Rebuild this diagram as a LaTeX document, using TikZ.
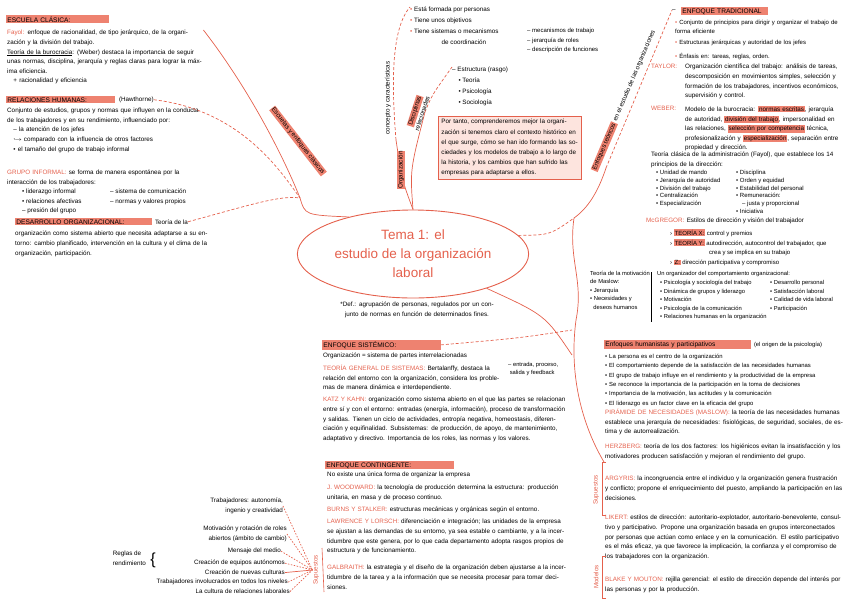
\documentclass[tikz,border=0pt]{standalone}
\usepackage{fontspec}
\setmainfont{Liberation Sans}
\usetikzlibrary{positioning,shapes.geometric}
\definecolor{salmon}{RGB}{228,96,76}
\definecolor{resalte}{RGB}{238,130,112}
\definecolor{rosa}{RGB}{253,228,222}
\newcommand{\rj}[1]{\textcolor{salmon}{#1}}
\newcommand{\hl}[1]{{\setlength{\fboxsep}{0.8pt}\colorbox{resalte}{#1}}}
\begin{document}
\begin{tikzpicture}[x=1pt, y=-1pt,
	txt/.style={anchor=north west, align=left, inner sep=0pt, font=\fontsize{6.3}{9.6}\selectfont},
	head/.style={anchor=north west, align=left, fill=resalte, inner sep=1.2pt, font=\fontsize{6.6}{8}\selectfont},
	rama/.style={draw=salmon, line width=0.7pt},
	ramad/.style={rama, dash pattern=on 3pt off 2pt},
	giro/.style={inner sep=0.5pt, font=\fontsize{6.3}{8}\selectfont}]

\useasboundingbox (0,0) rectangle (848,600);

% centro
\node[ellipse, draw=salmon, line width=0.9pt, minimum width=226pt, minimum height=88pt,
	align=center, text=salmon, font=\fontsize{13.5}{19}\selectfont] (tema) at (413,254)
	{Tema 1: el\\ estudio de la organización\\ laboral};
\node[txt, anchor=north, align=center, text width=200pt] (def) at (417,302)
	{*Def.: agrupación de personas, regulados por un conjunto de normas en función de determinados fines.};

% escuelas clasicas (izquierda)
\node[head, text width=100pt] (clasica) at (6,15) {ESCUELA CLÁSICA:};
\node[txt, text width=196pt] (fayol) at (7,30) {\rj{Fayol:} enfoque de racionalidad, de tipo jerárquico, de la organización y la división del trabajo.\\
	\underline{Teoría de la burocracia}: (Weber) destaca la importancia de seguir unas normas, disciplina, jerarquía y reglas claras para lograr la máxima eficiencia.\\
	\quad + racionalidad y eficiencia};
\node[head, text width=106pt] (humanas) at (6,96) {RELACIONES HUMANAS:};
\node[txt, right=4pt of humanas] (hawthorne) {(Hawthorne)};
\node[txt, text width=196pt] (hawtext) at (7,108) {Conjunto de estudios, grupos y normas que influyen en la conducta de los trabajadores y en su rendimiento, influenciado por:\\
	\quad -- la atención de los jefes\\
	\quad $\hookrightarrow$ comparado con la influencia de otros factores\\
	\quad • el tamaño del grupo de trabajo informal};
\node[txt, text width=196pt] (informal) at (7,170) {\rj{GRUPO INFORMAL:} se forma de manera espontánea por la\\ interacción de los trabajadores:};
\node[txt] (colA) at (22,189) {• liderazgo informal\\ • relaciones afectivas\\ -- presión del grupo};
\node[txt] (colB) at (110,189) {-- sistema de comunicación\\ -- normas y valores propios};
\node[head, text width=134pt] (desarrollo) at (15,218) {DESARROLLO ORGANIZACIONAL:};
\node[txt, right=3pt of desarrollo] (desteo) {Teoría de la};
\node[txt, text width=200pt] (destext) at (15,231) {organización como sistema abierto que necesita adaptarse a su entorno: cambio planificado, intervención en la cultura y el clima de la organización, participación.};

\coordinate (nudo) at (300,198);
\draw[rama] (fayol.north east) .. controls (250,90) and (285,160) .. (nudo);
\draw[ramad] (hawthorne.east) .. controls (240,110) and (280,170) .. (nudo);
\draw[ramad] (desteo.east) .. controls (250,205) and (280,195) .. (nudo);
\draw[rama] (nudo) .. controls (305,215) .. (tema.150);
\node[giro, rotate=-52] (clasicos) at (298,141) {\hl{Escuelas y enfoques clásicos}};

% concepto (arriba)
\node[txt, font=\fontsize{6.3}{11}\selectfont] (personas) at (410,7) {\rj{•} Está formada por personas\\ \rj{•} Tiene unos objetivos\\ \rj{•} Tiene sistemas o mecanismos\\ \hspace*{5em}de coordinación};
\node[txt, font=\fontsize{6}{9.5}\selectfont] (mecanismos) at (527,28) {-- mecanismos de trabajo\\ -- jerarquía de roles\\ -- descripción de funciones};
\node[txt, font=\fontsize{6.3}{11}\selectfont] (estructura) at (452,67) {-- Estructura (rasgo)\\ \quad • Teoría\\ \quad • Psicología\\ \quad • Sociología};
\node[draw=salmon, fill=rosa, line width=0.8pt, anchor=north west, text width=137pt, inner sep=3pt,
	align=left, font=\fontsize{6.3}{10.2}\selectfont] (portanto) at (438,116)
	{Por tanto, comprenderemos mejor la organización si tenemos claro el contexto histórico en el que surge, cómo se han ido formando las sociedades y los modelos de trabajo a lo largo de la historia, y los cambios que han sufrido las empresas para adaptarse a ellos.};

\coordinate (medio) at (396,140);
\coordinate (medio2) at (425,112);
\draw[rama] (tema.north) .. controls (402,180) .. (medio);
\draw[ramad] (medio) .. controls (392,90) and (390,30) .. (personas.north west);
\draw[rama] (tema.north) .. controls (410,170) .. (medio2);
\draw[ramad] (medio2) .. controls (432,95) .. (estructura.north west);
\node[giro, rotate=90] (organiz) at (401,170) {\hl{Organización}};
\node[giro, rotate=90] (concepto) at (388,98) {concepto y características};
\node[giro, rotate=72, align=center] (disciplinas) at (418,112) {\hl{Disciplinas}\\ relacionadas};

% enfoque tradicional (arriba derecha)
\coordinate (cruce) at (574,218);
\coordinate (enf0) at (606,168);
\node[txt] (guion) at (672,9) {--};
\node[head, text width=84pt] (tradicional) at (681,7) {ENFOQUE TRADICIONAL};
\draw[ramad] (tema.10) .. controls (550,235) .. (cruce);
\draw[rama] (cruce) .. controls (588,208) and (598,192) .. (enf0);
\draw[ramad] (enf0) -- (guion.west);
\node[giro, rotate=67, anchor=south west] (enfoques) at (598,173) {\hl{Enfoques teóricos} en el estudio de las organizaciones};

\node[txt, text width=168pt, font=\fontsize{6}{8.5}\selectfont] (principios) at (675,20) {\rj{•} Conjunto de principios para dirigir y organizar el trabajo de forma eficiente\\[3pt]
	\rj{•} Estructuras jerárquicas y autoridad de los jefes\\[5pt] \rj{•} Énfasis en: tareas, reglas, orden.};
\node[txt, text=salmon] (taylor) at (651,64) {TAYLOR:};
\node[txt, text width=160pt] (taylortxt) at (685,64) {Organización científica del trabajo: análisis de tareas, descomposición en movimientos simples, selección y formación de los trabajadores, incentivos económicos, supervisión y control.};
\node[txt, text=salmon] (weber) at (651,106) {WEBER:};
\node[txt, text width=160pt] (webertxt) at (685,106) {Modelo de la burocracia: \hl{normas escritas}, jerarquía de autoridad, \hl{división del trabajo}, impersonalidad en las relaciones, \hl{selección por competencia} técnica, profesionalización y \hl{especialización}, separación entre propiedad y dirección.};
\node[txt, text width=190pt] (fayolr) at (651,152) {Teoría clásica de la administración (Fayol), que establece los 14 principios de la dirección:};
\node[txt, font=\fontsize{6}{7.8}\selectfont] (colE) at (656,170) {• Unidad de mando\\ • Jerarquía de autoridad\\ • División del trabajo\\ • Centralización\\ • Especialización};
\node[txt, font=\fontsize{6}{7.8}\selectfont] (colF) at (736,170) {• Disciplina\\ • Orden y equidad\\ • Estabilidad del personal\\ • Remuneración:\\ \quad -- justa y proporcional\\ • Iniciativa};
\node[txt, text=salmon] (mcgregor) at (646,218) {McGREGOR:};
\node[txt, right=2pt of mcgregor] (estilos) {Estilos de dirección y visión del trabajador};
\node[txt, font=\fontsize{6}{9.8}\selectfont] (teorias) at (670,229) {› \hl{TEORÍA X:} control y premios\\ › \hl{TEORÍA Y:} autodirección, autocontrol del trabajador, que\\ \hspace*{6.5em}crea y se implica en su trabajo\\ › \hl{Z:} dirección participativa y compromiso};

% enfoques humanistas (derecha)
\draw[rama] (cruce) .. controls (568,260) and (584,280) .. (576,320) .. controls (568,380) and (585,430) .. (604,462);
\draw[rama] (tema.-25) .. controls (545,315) .. (572,355);
\node[txt, font=\fontsize{5.8}{8.4}\selectfont] (maslowp) at (590,271) {Teoría de la motivación\\ de Maslow:\\ • Jerarquía\\ • Necesidades y\\ \ \ deseos humanos};
\draw (651,272) -- (651,322);
\node[txt, font=\fontsize{5.8}{8.4}\selectfont] (organizador) at (657,271) {Un organizador del comportamiento organizacional:};
\node[txt, font=\fontsize{5.8}{8.6}\selectfont] (colC) at (660,280) {• Psicología y sociología del trabajo\\ • Dinámica de grupos y liderazgo\\ • Motivación\\ • Psicología de la comunicación\\ • Relaciones humanas en la organización};
\node[txt, font=\fontsize{5.8}{8.6}\selectfont] (colD) at (770,280) {• Desarrollo personal\\ • Satisfacción laboral\\ • Calidad de vida laboral\\ • Participación};

\node[head, text width=144pt] (humanista) at (604,340) {Enfoques humanistas y participativos};
\node[txt, right=3pt of humanista, font=\fontsize{5.8}{8}\selectfont] (origen) {(el origen de la psicología)};
\node[txt, text width=240pt, font=\fontsize{5.9}{9.3}\selectfont] (supuestos) at (605,354) {• La persona es el centro de la organización\\ • El comportamiento depende de la satisfacción de las necesidades humanas\\ • El grupo de trabajo influye en el rendimiento y la productividad de la empresa\\ • Se reconoce la importancia de la participación en la toma de decisiones\\ • Importancia de la motivación, las actitudes y la comunicación\\ • El liderazgo es un factor clave en la eficacia del grupo};
\node[txt, text width=240pt] (maslow) at (605,409) {\rj{PIRÁMIDE DE NECESIDADES (MASLOW):} la teoría de las necesidades humanas establece una jerarquía de necesidades: fisiológicas, de seguridad, sociales, de estima y de autorrealización.};
\node[txt, text width=240pt] (herzberg) at (605,444) {\rj{HERZBERG:} teoría de los dos factores: los higiénicos evitan la insatisfacción y los motivadores producen satisfacción y mejoran el rendimiento del grupo.};
\node[txt, text width=240pt] (argyris) at (605,476) {\rj{ARGYRIS:} la incongruencia entre el individuo y la organización genera frustración y conflicto; propone el enriquecimiento del puesto, ampliando la participación en las decisiones.};
\node[txt, text width=240pt] (likert) at (605,515) {\rj{LIKERT:} estilos de dirección: autoritario-explotador, autoritario-benevolente, consultivo y participativo. Propone una organización basada en grupos interconectados por personas que actúan como enlace y en la comunicación. El estilo participativo es el más eficaz, ya que favorece la implicación, la confianza y el compromiso de los trabajadores con la organización.};
\node[txt, text width=240pt] (blake) at (605,577) {\rj{BLAKE Y MOUTON:} rejilla gerencial: el estilo de dirección depende del interés por las personas y por la producción.};
\node[giro, rotate=90, text=salmon] (supuestosd) at (596,490) {Supuestos};
\node[giro, rotate=90, text=salmon] (modelos) at (596,577) {Modelos};
\draw[salmon, line width=0.6pt] (606,462) -| (602,515) -- (606,515);
\draw[salmon, line width=0.6pt] (606,556) -| (602,598) -- (606,598);

% enfoque sistemico y contingente (abajo)
\node[head, text width=116pt] (sistemico) at (322,340) {ENFOQUE SISTÉMICO:};
\draw[ramad] (sistemico.east) .. controls (520,338) .. (572,330);
\node[txt] (partes) at (323,353) {Organización = sistema de partes interrelacionadas};
\node[txt, text width=178pt] (tgs) at (323,365) {\rj{TEORÍA GENERAL DE SISTEMAS:} Bertalanffy, destaca la relación del entorno con la organización, considera los problemas de manera dinámica e interdependiente.};
\node[txt, font=\fontsize{5.8}{8}\selectfont] (entradas) at (508,362) {-- entrada, proceso,\\ \ salida y feedback};
\node[txt, text width=245pt] (katz) at (323,397) {\rj{KATZ Y KAHN:} organización como sistema abierto en el que las partes se relacionan entre sí y con el entorno: entradas (energía, información), proceso de transformación y salidas. Tienen un ciclo de actividades, entropía negativa, homeostasis, diferenciación y equifinalidad. Subsistemas: de producción, de apoyo, de mantenimiento, adaptativo y directivo. Importancia de los roles, las normas y los valores.};
\node[head, text width=126pt] (contingente) at (325,461) {ENFOQUE CONTINGENTE:};
\node[txt] (nounica) at (327,472) {No existe una única forma de organizar la empresa};
\node[txt, text width=240pt] (woodward) at (327,485) {\rj{J. WOODWARD:} la tecnología de producción determina la estructura: producción unitaria, en masa y de proceso continuo.};
\node[txt, text width=240pt] (burns) at (327,507) {\rj{BURNS Y STALKER:} estructuras mecánicas y orgánicas según el entorno.};
\node[txt, text width=240pt] (lawrence) at (327,519) {\rj{LAWRENCE Y LORSCH:} diferenciación e integración; las unidades de la empresa se ajustan a las demandas de su entorno, ya sea estable o cambiante, y a la incertidumbre que este genera, por lo que cada departamento adopta rasgos propios de estructura y de funcionamiento.};
\node[txt, text width=240pt] (galbraith) at (327,565) {\rj{GALBRAITH:} la estrategia y el diseño de la organización deben ajustarse a la incertidumbre de la tarea y a la información que se necesita procesar para tomar decisiones.};

% supuestos (abajo izquierda)
\node[txt, anchor=north east, align=right] (s1) at (283,498) {Trabajadores: autonomía,\\ ingenio y creatividad};
\node[txt, anchor=north east, align=right] (s2) at (287,526) {Motivación y rotación de roles\\ abiertos (ámbito de cambio)};
\node[txt, anchor=north east, align=right] (s3) at (281,548) {Mensaje del medio};
\node[txt, anchor=north east, align=right] (s4) at (285,560) {Creación de equipos autónomos};
\node[txt, anchor=north east, align=right] (s5) at (285,570) {Creación de nuevas culturas};
\node[txt, anchor=north east, align=right] (s6) at (288,579) {Trabajadores involucrados en todos los niveles};
\node[txt, anchor=north east, align=right] (s7) at (290,589) {La cultura de relaciones laborales};
\node[font=\fontsize{16}{16}\selectfont, inner sep=0pt] (llave) at (153,560) {\{};
\node[txt, anchor=north east] (reglas) at (146,551) {Reglas de\\ rendimiento};
\node[giro, rotate=90, text=salmon] (supuestosi) at (316,570) {Supuestos};
\draw[salmon, line width=0.6pt] (322,548) -- (324,592);
\foreach \s in {s1,s2,s3,s4,s6,s7}
	\draw[rama, dash pattern=on 1.5pt off 1.5pt] (\s.east) -- (supuestosi.north);
\draw[rama] (s5.east) -- (supuestosi.north);

\end{tikzpicture}
\end{document}
